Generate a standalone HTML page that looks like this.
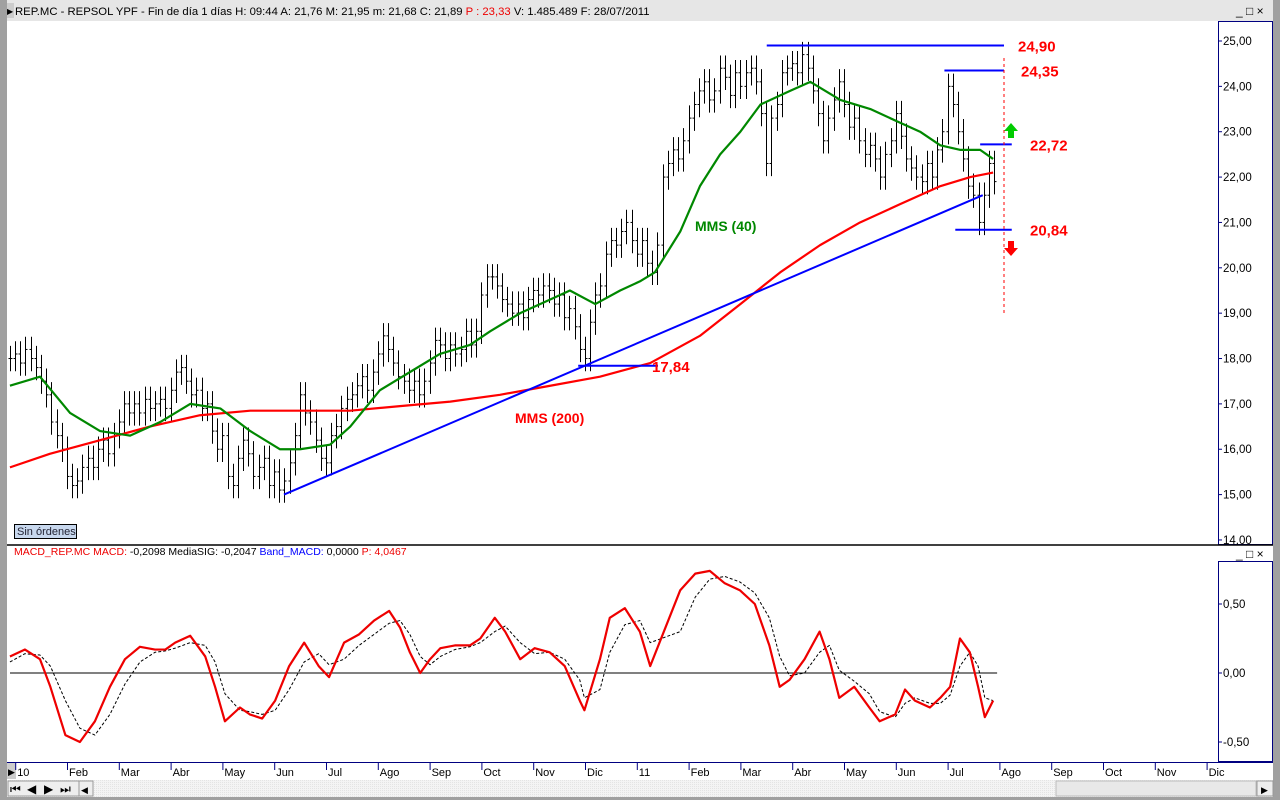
<!DOCTYPE html>
<html><head><meta charset="utf-8"><style>
body{margin:0;width:1280px;height:800px;overflow:hidden;background:#fff;font-family:"Liberation Sans",sans-serif}
svg{display:block}
</style></head><body>
<svg id="c" width="1280" height="800" xmlns="http://www.w3.org/2000/svg" font-family="Liberation Sans, sans-serif">
<defs><pattern id="hatch" width="2" height="2" patternUnits="userSpaceOnUse"><rect width="2" height="2" fill="#f4f4f4"/><rect width="1" height="1" fill="#e4e4e4"/></pattern></defs>
<rect x="0" y="0" width="1280" height="800" fill="#fff"/>
<rect x="0" y="0" width="7" height="800" fill="#a0a0a0"/>
<rect x="1273" y="0" width="7" height="800" fill="#a0a0a0"/>
<rect x="7" y="0" width="1266" height="21" fill="#e6e6e6"/>
<rect x="7" y="3" width="7" height="15" fill="#ccc"/>
<text x="7" y="14" font-size="8">▶</text>
<text x="15" y="15" font-size="11.3"><tspan>REP.MC - REPSOL YPF - Fin de día 1 días  H: 09:44  A: 21,76  M: 21,95  m: 21,68  C: 21,89  </tspan><tspan fill="#e00">P : 23,33</tspan><tspan>  V: 1.485.489  F: 28/07/2011</tspan></text>
<text x="1236" y="15" font-size="12">_ □ ×</text>
<rect x="1218.5" y="21.5" width="54" height="523" fill="#fff" stroke="#000080"/>
<line x1="7" y1="545" x2="1273" y2="545" stroke="#000" stroke-width="1.5"/>
<text x="1236" y="558" font-size="12">_ □ ×</text>
<rect x="1218.5" y="561.5" width="54" height="200" fill="#fff" stroke="#000080"/>
<text x="14" y="555" font-size="10.5"><tspan fill="#e00">MACD_REP.MC  MACD: </tspan><tspan fill="#000">-0,2098  MediaSIG: -0,2047  </tspan><tspan fill="#00f">Band_MACD: </tspan><tspan fill="#000">0,0000  </tspan><tspan fill="#e00">P: 4,0467</tspan></text>
<rect x="14.5" y="524.5" width="62" height="14" fill="#c8d8ee" stroke="#000"/>
<text x="17" y="535" font-size="11" fill="#223">Sin órdenes</text>
<line x1="7" y1="762.5" x2="1273" y2="762.5" stroke="#000080"/>
<rect x="7" y="780" width="1266" height="17" fill="url(#hatch)"/>
<rect x="1056" y="781" width="200" height="15" fill="#e8e8e8" stroke="#bbb"/>
<rect x="1257" y="781" width="16" height="15" fill="#eee" stroke="#999"/>
<text x="1261" y="793" font-size="9">▶</text>
<rect x="7" y="797" width="1266" height="3" fill="#a0a0a0"/>
<g id="nav" font-size="12">
<rect x="8" y="781" width="83" height="15" fill="#eee" stroke="#999"/>
<text x="10" y="793">⏮</text><text x="27" y="793">◀</text><text x="44" y="793">▶</text><text x="60" y="793">⏭</text>
<rect x="79" y="781" width="14" height="15" fill="#eee" stroke="#999"/><text x="81" y="793" font-size="9">◀</text>
</g>
<rect x="7" y="763" width="9" height="16" fill="#ccc"/>
<text x="8" y="775" font-size="9">▶</text>
<g id="plot"></g>
</svg>
<script>
// ---- data ----
const monthLabels=["10","Feb","Mar","Abr","May","Jun","Jul","Ago","Sep","Oct","Nov","Dic","11","Feb","Mar","Abr","May","Jun","Jul","Ago","Sep","Oct","Nov","Dic"];
const priceTicks=[25,24,23,22,21,20,19,18,17,16,15,14];
const macdTicks=[0.5,0,-0.5];
const closeStart=-0.14, closeStep=0.1; // months from Jan 2010
const closes=[18.0,18.1,17.9,18.2,18.0,17.8,17.5,17.2,16.6,16.3,16.0,15.4,15.2,15.3,15.6,15.8,15.6,16.0,16.2,15.9,16.3,16.6,17.0,16.8,17.0,16.8,17.1,16.9,17.0,17.1,16.9,17.3,17.7,17.8,17.5,17.2,17.3,16.9,17.0,16.4,16.0,16.3,15.4,15.2,15.8,16.2,15.9,15.4,15.6,15.8,15.2,15.5,15.1,15.3,15.7,16.3,17.2,16.8,16.6,16.2,15.8,15.7,16.3,16.5,16.9,17.1,17.2,17.4,17.6,17.3,17.7,18.1,18.5,18.2,17.9,17.6,17.5,17.3,17.5,17.2,17.5,17.9,18.4,18.3,18.0,18.3,18.1,18.2,18.6,18.3,18.6,19.4,19.8,19.8,19.6,19.3,19.2,19.0,19.2,18.9,19.3,19.5,19.4,19.6,19.5,19.2,19.4,18.9,19.1,18.7,18.2,18.0,18.8,19.4,19.6,20.3,20.6,20.5,20.8,21.0,20.6,20.3,20.6,20.1,19.9,20.5,22.0,22.3,22.6,22.4,22.8,23.3,23.6,23.9,24.1,23.7,23.9,24.4,24.2,23.8,24.3,24.0,24.3,24.4,24.1,23.4,22.3,23.3,23.6,24.3,24.4,24.5,24.3,24.7,24.4,23.9,23.4,22.8,23.3,23.7,24.1,23.6,23.1,23.3,22.8,22.5,22.7,22.4,22.0,22.5,22.8,23.4,22.9,22.4,22.2,22.0,21.9,22.3,22.0,22.6,23.0,24.0,23.6,23.0,22.4,21.8,21.6,21.0,21.6,22.3,21.9];
const barHalfRange=0.28;
const smaT=[-0.14,0.44,1.02,1.6,2.18,2.76,3.34,3.92,4.5,5.07,5.46,6.04,6.43,7.0,7.58,8.16,8.74,9.13,9.71,10.29,10.67,11.16,11.64,12.02,12.31,12.8,13.18,13.57,13.96,14.35,14.92,15.31,15.89,16.47,17.04,17.43,17.82,18.2,18.59,18.84];
const sma40=[17.4,17.6,16.8,16.4,16.3,16.6,17.0,16.9,16.4,16.0,16.0,16.1,16.5,17.3,17.7,18.1,18.3,18.6,19.0,19.3,19.5,19.2,19.5,19.7,19.9,20.8,21.8,22.5,23.0,23.6,23.9,24.1,23.7,23.5,23.2,23.0,22.7,22.6,22.6,22.4];
const sma200T=[-0.14,0.63,1.6,2.56,3.53,4.5,5.46,6.43,7.39,8.36,9.32,10.29,11.25,12.22,13.18,13.96,14.73,15.5,16.27,17.04,17.82,18.4,18.84];
const sma200=[15.6,15.9,16.2,16.5,16.75,16.85,16.85,16.85,16.95,17.05,17.2,17.4,17.6,17.9,18.5,19.2,19.9,20.5,21.0,21.4,21.8,22.0,22.1];
const macdT=[-0.14,0.15,0.44,0.64,0.93,1.21,1.5,1.79,2.08,2.37,2.66,2.86,3.05,3.34,3.63,3.82,4.01,4.3,4.49,4.73,4.98,5.25,5.54,5.82,6.02,6.31,6.6,6.89,7.18,7.39,7.58,7.78,7.97,8.17,8.45,8.74,8.94,9.22,9.42,9.71,9.99,10.28,10.57,10.86,10.95,11.25,11.44,11.73,12.02,12.22,12.8,13.09,13.37,13.66,13.95,14.24,14.52,14.72,14.91,15.2,15.49,15.68,15.87,16.16,16.45,16.65,16.95,17.14,17.33,17.62,17.82,18.01,18.2,18.39,18.55,18.68,18.84];
const macd=[0.12,0.17,0.10,-0.10,-0.45,-0.50,-0.35,-0.10,0.10,0.19,0.17,0.17,0.22,0.27,0.12,-0.10,-0.35,-0.25,-0.30,-0.33,-0.20,0.05,0.22,0.05,-0.03,0.22,0.28,0.38,0.45,0.33,0.15,0.0,0.10,0.18,0.20,0.20,0.25,0.40,0.30,0.10,0.18,0.15,0.05,-0.20,-0.27,0.10,0.40,0.47,0.30,0.05,0.60,0.72,0.74,0.65,0.60,0.50,0.20,-0.10,-0.05,0.10,0.30,0.10,-0.18,-0.10,-0.25,-0.35,-0.30,-0.12,-0.20,-0.25,-0.18,-0.10,0.25,0.15,-0.10,-0.32,-0.20];
const signal=[0.08,0.14,0.13,0.05,-0.20,-0.40,-0.45,-0.30,-0.08,0.08,0.15,0.16,0.18,0.22,0.20,0.08,-0.15,-0.27,-0.28,-0.30,-0.27,-0.12,0.08,0.14,0.06,0.10,0.20,0.28,0.36,0.38,0.28,0.12,0.06,0.12,0.17,0.19,0.22,0.30,0.34,0.22,0.14,0.15,0.10,-0.05,-0.18,-0.12,0.15,0.35,0.38,0.22,0.30,0.55,0.68,0.70,0.66,0.58,0.40,0.12,-0.02,0.00,0.15,0.20,0.02,-0.06,-0.15,-0.28,-0.32,-0.22,-0.18,-0.22,-0.22,-0.16,0.05,0.15,0.05,-0.18,-0.20];
const levels=[24.90,24.35,22.72,20.84,17.84];
const levelStart=[14.47,17.9,18.59,18.11,10.83];
const levelEnd=[19.05,19.05,19.2,19.2,12.37];
const trendT=[5.15,18.64], trendV=[15.0,21.6];
// ---- axes ----
const X=t=>17.2+t*51.8;
const PY=p=>41+(25-p)*45.36;
const MY=v=>673-v*138;
const NS="http://www.w3.org/2000/svg";
const g=document.getElementById('plot');
function mk(tag,attrs){const e=document.createElementNS(NS,tag);for(const k in attrs)e.setAttribute(k,attrs[k]);g.appendChild(e);return e;}
monthLabels.forEach((m,i)=>{
  const x=X(i);
  const t=mk('line',{x1:x-1.5,y1:763,x2:x-1.5,y2:770,stroke:'#000080'});
  
  
  const l=mk('text',{x:x,y:776,'font-size':11});l.textContent=m;
  
  
});
priceTicks.forEach(p=>{
  const y=PY(p);
  mk('line',{x1:1218,y1:y,x2:1222,y2:y,stroke:'#000080'});
  const l=mk('text',{x:1223,y:y+4,'font-size':11.5});l.textContent=p.toFixed(2).replace('.',',');
  
  
});
macdTicks.forEach(v=>{
  const y=MY(v);
  mk('line',{x1:1218,y1:y,x2:1222,y2:y,stroke:'#000080'});
  const l=mk('text',{x:1223,y:y+4,'font-size':11.5});l.textContent=v.toFixed(2).replace('.',',');
  
  
});
closes.forEach((c,i)=>{
  const x=Math.round(X(closeStart+i*closeStep))+0.5;
  const prev=i>0?closes[i-1]:c;
  const b=mk('line',{x1:x,y1:PY(Math.max(c,prev)+barHalfRange),x2:x,y2:PY(Math.min(c,prev)-barHalfRange),stroke:'#000','stroke-width':1});
  
  
  mk('line',{x1:x-2,y1:PY(prev),x2:x,y2:PY(prev),stroke:'#000'});
  mk('line',{x1:x,y1:PY(c),x2:x+2,y2:PY(c),stroke:'#000'});
});
function line(ts,vs,sy,color,w,name,dash){
  const p=mk('polyline',{points:ts.map((t,i)=>X(t)+','+sy(vs[i])).join(' '),fill:'none',stroke:color,'stroke-width':w,'stroke-linejoin':'round'});
  if(dash)p.setAttribute('stroke-dasharray',dash);
  
  
}
line(sma200T,sma200,PY,'#f00',2.2,'sma200-line');
line(smaT,sma40,PY,'#080',2.2,'sma40-line');
line(trendT,trendV,PY,'#00f',2,'trend-line');
levels.forEach((v,i)=>{
  const l=mk('line',{x1:X(levelStart[i]),y1:PY(v),x2:X(levelEnd[i]),y2:PY(v),stroke:'#00f','stroke-width':2});
  
  
});
const lblX=[1018,1021,1030,1030,652];
levels.forEach((v,i)=>{
  const t=mk('text',{x:lblX[i],y:PY(v)+6,'font-size':15,'font-weight':'bold',fill:'#f00'});
  t.textContent=v.toFixed(2).replace('.',',');
  
  
});
const dv=mk('line',{x1:1004,y1:58,x2:1004,y2:315,stroke:'#f00','stroke-dasharray':'3,3'});


const up=mk('polygon',{points:'1011,123 1018,131 1014,131 1014,138 1008,138 1008,131 1004,131',fill:'#0c0'});


const dn=mk('polygon',{points:'1008,241 1014,241 1014,248 1018,248 1011,256 1004,248 1008,248',fill:'#f00'});


const t40=mk('text',{x:695,y:231,'font-size':14,'font-weight':'bold',fill:'#080'});t40.textContent='MMS (40)';


const t200=mk('text',{x:515,y:423,'font-size':14,'font-weight':'bold',fill:'#f00'});t200.textContent='MMS (200)';


const z=mk('line',{x1:10,y1:MY(0),x2:X(18.84)+4,y2:MY(0),stroke:'#000'});


line(macdT,signal,MY,'#000',1,'signal-line','3,2');
line(macdT,macd,MY,'#e00',2.2,'macd-line');
</script>
</body></html>
